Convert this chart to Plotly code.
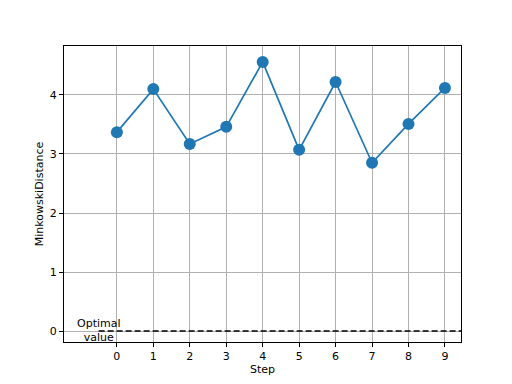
import plotly.graph_objects as go

steps = [0, 1, 2, 3, 4, 5, 6, 7, 8, 9]
distances = [3.37, 4.10, 3.17, 3.46, 4.56, 3.07, 4.22, 2.85, 3.51, 4.12]
optimal_x = [-0.5, 9.5]
optimal_y = [0, 0]
optimal_label = "Optimal<br>value"
x_ticks = [0, 1, 2, 3, 4, 5, 6, 7, 8, 9]
y_ticks = [0, 1, 2, 3, 4]

fig = go.Figure()
fig.add_trace(go.Scatter(
    x=optimal_x, y=optimal_y, mode="lines",
    line=dict(color="black", width=1.6, dash="6px,3px"),
    hoverinfo="skip", showlegend=False))
fig.add_trace(go.Scatter(
    x=steps, y=distances, mode="lines+markers",
    line=dict(color="#1f77b4", width=1.7),
    marker=dict(color="#1f77b4", size=12),
    showlegend=False))
fig.add_annotation(x=-0.5, y=0, text=optimal_label, showarrow=False,
                   xanchor="center", yanchor="middle", align="center",
                   yshift=1,
                   font=dict(size=11, color="black"))

axis_common = dict(showline=True, linecolor="black", linewidth=1, mirror=True,
                   ticks="outside", ticklen=4, tickcolor="black", tickwidth=1,
                   showgrid=True, gridcolor="#b0b0b0", gridwidth=0.9,
                   zeroline=False, tickfont=dict(size=11, color="black"))

fig.update_layout(
    width=512, height=384,
    margin=dict(l=56, r=59, t=38, b=50),
    paper_bgcolor="white", plot_bgcolor="white",
    font=dict(family="DejaVu Sans", size=11, color="black"),
    xaxis=dict(range=[-1.45, 9.44], tickvals=x_ticks,
               title=dict(text="Step", font=dict(size=11), standoff=2),
               **axis_common),
    yaxis=dict(range=[-0.186, 4.83], tickvals=y_ticks,
               title=dict(text="MinkowskiDistance", font=dict(size=11), standoff=3),
               **axis_common),
)

fig.write_html("out.html")
